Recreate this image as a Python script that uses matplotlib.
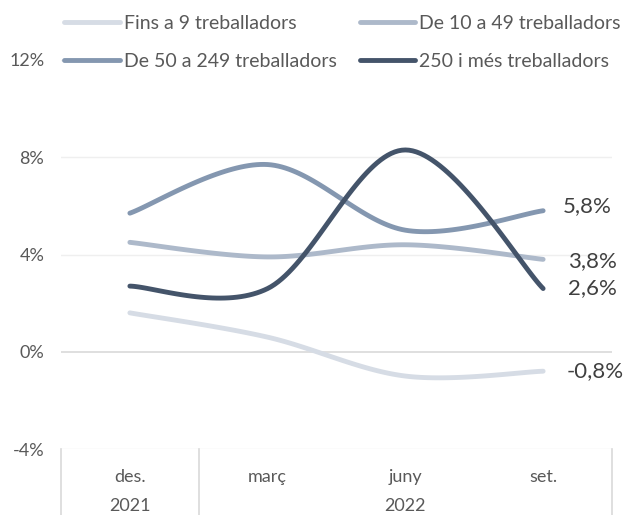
import numpy as np
import matplotlib
matplotlib.use('Agg')
import matplotlib.pyplot as plt

plt.rcParams['font.family'] = ['Lato', 'DejaVu Sans']

# data
months = ['des.', 'març', 'juny', 'set.']
years = ['2021', '2022']
year_spans = [(0, 0), (1, 3)]
fins_9 = [1.6, 0.6, -1.0, -0.8]
de_10_49 = [4.5, 3.9, 4.4, 3.8]
de_50_249 = [5.7, 7.7, 5.0, 5.8]
mes_250 = [2.7, 2.6, 8.3, 2.6]
series_names = ['Fins a 9 treballadors', 'De 10 a 49 treballadors',
                'De 50 a 249 treballadors', '250 i més treballadors']
end_labels = ['-0,8%', '3,8%', '5,8%', '2,6%']
yticks = [-4, 0, 4, 8, 12]

colors = ['#d6dce5', '#adb9ca', '#8497b0', '#44546a']
text_color = '#595959'


def smooth(xs, ys, n=40):
    # excel-like smoothed line: cubic bezier with catmull-rom control points
    xs = np.asarray(xs, float)
    ys = np.asarray(ys, float)
    pts = np.column_stack([xs, ys])
    out = []
    k = len(pts)
    for i in range(k - 1):
        p0 = pts[max(i - 1, 0)]
        p1 = pts[i]
        p2 = pts[i + 1]
        p3 = pts[min(i + 2, k - 1)]
        c1 = p1 + (p2 - p0) / 6
        c2 = p2 - (p3 - p1) / 6
        t = np.linspace(0, 1, n)[:, None]
        seg = ((1 - t) ** 3) * p1 + 3 * ((1 - t) ** 2) * t * c1 + 3 * (1 - t) * t ** 2 * c2 + t ** 3 * p2
        if i > 0:
            seg = seg[1:]
        out.append(seg)
    out = np.vstack(out)
    return out[:, 0], out[:, 1]


fig = plt.figure(figsize=(6.33, 5.15), dpi=100)
ax = fig.add_axes([61 / 633, 1 - 449 / 515, (612 - 61) / 633, (449 - 60) / 515])

x = np.arange(len(months))
all_series = [fins_9, de_10_49, de_50_249, mes_250]
handles = []
for vals, name, col in zip(all_series, series_names, colors):
    sx, sy = smooth(x, vals)
    h, = ax.plot(sx, sy, color=col, lw=3.5, solid_capstyle='round', label=name, zorder=3)
    handles.append(h)

# labels at the last point
offsets = [(17, 0), (18, -1), (14, 3.5), (18, 0)]
for vals, lab, off in zip(all_series, end_labels, offsets):
    ax.annotate(lab, (x[-1], vals[-1]), xytext=off, textcoords='offset points',
                ha='left', va='center', fontsize=16, color='#404040')

ax.set_xlim(-0.5, len(months) - 0.5)
ax.set_ylim(-4, 12)
ax.set_yticks(yticks)
ax.set_yticklabels(['%d%%' % v for v in yticks])
ax.tick_params(axis='y', length=0, pad=12, labelsize=13, labelcolor=text_color)
ax.set_xticks([])
for s in ax.spines.values():
    s.set_visible(False)

# gridlines
for v in yticks:
    if v == 0:
        ax.axhline(v, color='#d9d9d9', lw=1.2, zorder=1)
    else:
        ax.axhline(v, color='#efefef', lw=1.0, zorder=1)

# two-level category axis
xt = ax.get_xaxis_transform()
for i, m in enumerate(months):
    ax.text(i, -0.072, m, transform=xt, ha='center', va='center',
            fontsize=13, color=text_color)
for yr, (a, b) in zip(years, year_spans):
    ax.text((a + b) / 2, -0.146, yr, transform=xt, ha='center', va='center',
            fontsize=13, color=text_color)
for xv in [-0.5, 0.5, len(months) - 0.5]:
    ax.plot([xv, xv], [0, -0.2], transform=xt, color='#d9d9d9', lw=1.2, clip_on=False)

# legend, filled column-wise so reorder
order = [0, 2, 1, 3]
leg = fig.legend([handles[i] for i in order], [series_names[i] for i in order],
                 ncol=2, loc='center', bbox_to_anchor=(0.541, 0.918),
                 fontsize=14, frameon=True, framealpha=1, edgecolor='white',
                 facecolor='white', handlelength=2.85, handletextpad=0.2,
                 columnspacing=1.2, labelspacing=1.06, borderpad=0.1)
for t in leg.get_texts():
    t.set_color(text_color)

fig.savefig('out.png', dpi=100)
